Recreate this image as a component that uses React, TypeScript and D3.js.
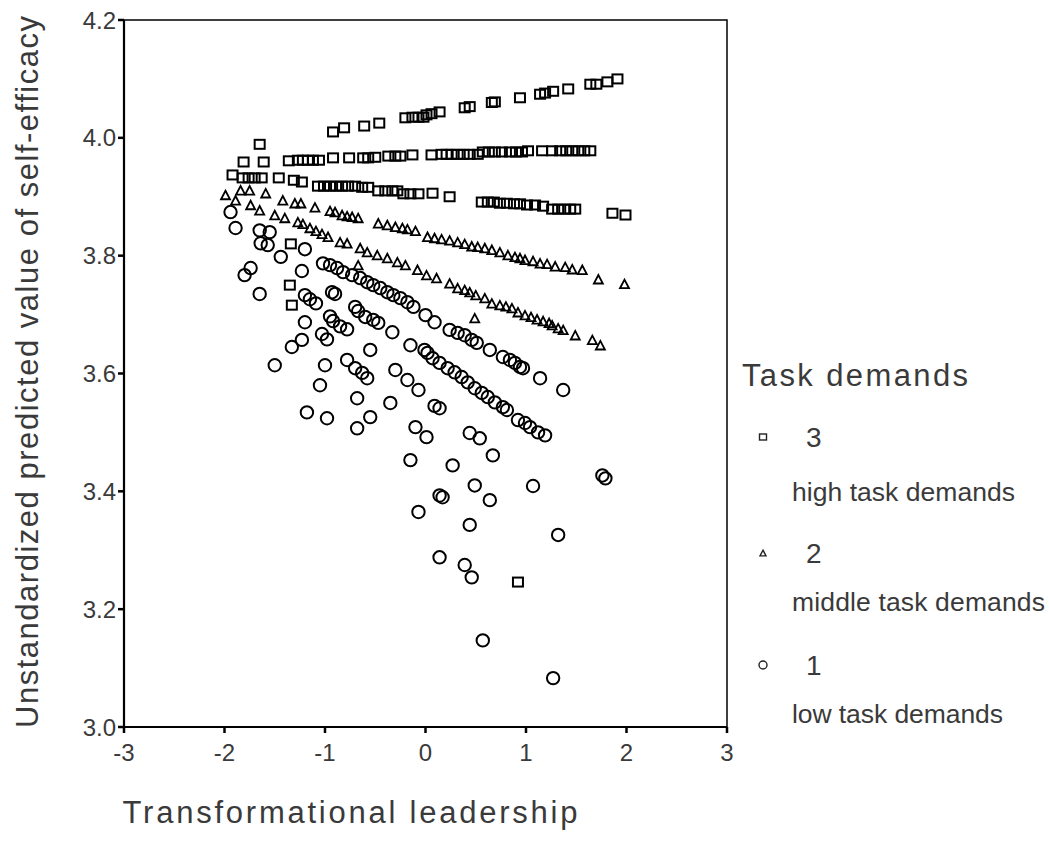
import React from "react";
import * as d3 from "d3";

type Pt = [number, number];

const xTicks = [-3, -2, -1, 0, 1, 2, 3];
const yTicks = [3.0, 3.2, 3.4, 3.6, 3.8, 4.0, 4.2];

const xTitle = "Transformational leadership";
const yTitle = "Unstandardized predicted value of self-efficacy";
const legendTitle = "Task demands";
const legendCodes = ["3", "2", "1"];
const legendLabels = ["high task demands", "middle task demands", "low task demands"];

// Task demands = 3 (high) – squares
const highSquares: Pt[] = [
  [-0.92, 4.010], [-0.81, 4.017], [-0.61, 4.020], [-0.46, 4.025], [-0.20, 4.034], [-0.13, 4.035],
  [-0.07, 4.035], [-0.02, 4.035], [0.01, 4.039], [0.06, 4.041], [0.14, 4.044], [0.39, 4.051],
  [0.44, 4.053], [0.66, 4.060], [0.69, 4.061], [0.94, 4.068], [1.14, 4.074], [1.19, 4.076],
  [1.27, 4.079], [1.42, 4.083], [1.64, 4.091], [1.70, 4.091], [1.81, 4.095], [1.91, 4.100],
  [-1.65, 3.989],
  [-1.81, 3.959], [-1.61, 3.959], [-1.36, 3.961], [-1.27, 3.962], [-1.22, 3.962], [-1.17, 3.962],
  [-1.12, 3.962], [-1.06, 3.962], [-0.92, 3.966], [-0.76, 3.966], [-0.62, 3.966], [-0.57, 3.966],
  [-0.50, 3.967], [-0.37, 3.969], [-0.30, 3.969], [-0.25, 3.969], [-0.13, 3.971], [0.06, 3.971],
  [0.16, 3.972], [0.21, 3.972], [0.26, 3.972], [0.32, 3.972], [0.38, 3.972], [0.44, 3.972],
  [0.52, 3.972], [0.57, 3.976], [0.63, 3.976], [0.69, 3.976], [0.76, 3.976], [0.84, 3.976],
  [0.90, 3.976], [0.96, 3.976], [1.02, 3.978], [1.16, 3.978], [1.26, 3.978], [1.34, 3.978],
  [1.40, 3.978], [1.46, 3.978], [1.52, 3.978], [1.58, 3.978], [1.64, 3.978],
  [-1.92, 3.937], [-1.82, 3.932], [-1.76, 3.932], [-1.70, 3.932], [-1.63, 3.932], [-1.46, 3.932],
  [-1.31, 3.928], [-1.23, 3.925], [-1.07, 3.918], [-1.01, 3.918], [-0.95, 3.918], [-0.89, 3.918],
  [-0.83, 3.918], [-0.77, 3.918], [-0.70, 3.918], [-0.63, 3.916], [-0.57, 3.916], [-0.47, 3.910],
  [-0.40, 3.910], [-0.33, 3.910], [-0.28, 3.910], [-0.22, 3.905], [-0.15, 3.905], [-0.07, 3.905],
  [0.07, 3.906], [0.24, 3.900], [0.56, 3.891], [0.62, 3.891], [0.68, 3.891], [0.74, 3.889],
  [0.81, 3.889], [0.88, 3.888], [0.94, 3.888], [1.01, 3.886], [1.09, 3.886], [1.17, 3.884],
  [1.26, 3.879], [1.32, 3.879], [1.38, 3.879], [1.44, 3.879], [1.49, 3.879], [1.86, 3.872],
  [1.99, 3.869],
  [-1.34, 3.820], [-1.35, 3.750], [-1.33, 3.716], [0.92, 3.246],
];

// Task demands = 2 (middle) – triangles
const middleTriangles: Pt[] = [
  [-1.99, 3.903], [-1.84, 3.911], [-1.75, 3.911], [-1.59, 3.906], [-1.42, 3.894], [-1.30, 3.889],
  [-1.24, 3.889], [-1.10, 3.882], [-0.95, 3.876], [-0.90, 3.874], [-0.83, 3.869], [-0.78, 3.867],
  [-0.73, 3.866], [-0.67, 3.864], [-0.47, 3.855], [-0.38, 3.852], [-0.30, 3.849], [-0.23, 3.847],
  [-0.18, 3.845], [-0.10, 3.842], [0.02, 3.832], [0.09, 3.830], [0.16, 3.828], [0.24, 3.826],
  [0.32, 3.823], [0.39, 3.820], [0.46, 3.816], [0.52, 3.815], [0.59, 3.813], [0.66, 3.810],
  [0.74, 3.806], [0.82, 3.801], [0.89, 3.798], [0.94, 3.796], [0.99, 3.793], [1.07, 3.791],
  [1.14, 3.787], [1.21, 3.786], [1.29, 3.782], [1.39, 3.781], [1.46, 3.777], [1.56, 3.776],
  [1.72, 3.760], [1.98, 3.752],
  [-1.89, 3.894], [-1.74, 3.886], [-1.65, 3.877], [-1.50, 3.869], [-1.40, 3.864], [-1.27, 3.857],
  [-1.22, 3.854], [-1.15, 3.847], [-1.09, 3.842], [-1.03, 3.837], [-0.97, 3.832], [-0.85, 3.823],
  [-0.78, 3.821], [-0.65, 3.813], [-0.58, 3.806], [-0.48, 3.801], [-0.38, 3.796], [-0.28, 3.789],
  [-0.20, 3.784], [-0.08, 3.776], [0.01, 3.767], [0.11, 3.762], [0.24, 3.753], [0.32, 3.745],
  [0.39, 3.742], [0.44, 3.738], [0.50, 3.733], [0.59, 3.728], [0.66, 3.719], [0.74, 3.716],
  [0.80, 3.714], [0.86, 3.711], [0.92, 3.704], [0.99, 3.699], [1.05, 3.696], [1.11, 3.692],
  [1.17, 3.689], [1.23, 3.686], [1.26, 3.682], [1.32, 3.677], [1.37, 3.674], [1.49, 3.665],
  [1.66, 3.657], [1.74, 3.648],
  [-0.67, 3.784], [0.49, 3.694],
];

// Task demands = 1 (low) – circles
const lowCircles: Pt[] = [
  [-1.94, 3.874], [-1.89, 3.847], [-1.65, 3.843], [-1.55, 3.840], [-1.64, 3.821], [-1.57, 3.818],
  [-1.44, 3.798], [-1.74, 3.779], [-1.80, 3.767], [-1.65, 3.735], [-1.23, 3.774], [-1.20, 3.811],
  [-1.20, 3.733], [-1.15, 3.726], [-1.09, 3.719], [-0.93, 3.738], [-0.90, 3.735], [-1.20, 3.687],
  [-0.95, 3.697], [-0.92, 3.689], [-0.85, 3.680], [-0.78, 3.675], [-1.03, 3.667], [-0.98, 3.658],
  [-1.33, 3.645], [-1.23, 3.657], [-1.50, 3.614], [-1.00, 3.614], [-1.05, 3.580], [-0.78, 3.623],
  [-0.70, 3.609], [-0.63, 3.601], [-0.58, 3.592], [-0.70, 3.713], [-0.67, 3.706], [-0.60, 3.696],
  [-0.52, 3.691], [-0.47, 3.686], [-0.33, 3.670], [-0.55, 3.640], [-0.15, 3.648], [-0.01, 3.640],
  [-0.30, 3.606], [-0.18, 3.589], [-0.07, 3.572], [-0.68, 3.558], [-0.35, 3.550], [-0.55, 3.526],
  [-1.18, 3.534], [-0.98, 3.524], [-0.68, 3.507], [-0.10, 3.509], [-0.15, 3.453],
  [-1.02, 3.787], [-0.95, 3.784], [-0.88, 3.779], [-0.82, 3.772], [-0.73, 3.767], [-0.65, 3.762],
  [-0.58, 3.755], [-0.52, 3.750], [-0.45, 3.745], [-0.38, 3.738], [-0.32, 3.733], [-0.25, 3.728],
  [-0.18, 3.721], [-0.12, 3.713], [0.00, 3.699], [0.09, 3.687], [0.24, 3.674], [0.32, 3.669],
  [0.39, 3.665], [0.46, 3.657], [0.51, 3.652], [0.64, 3.640], [0.77, 3.628], [0.84, 3.623],
  [0.89, 3.618], [0.94, 3.611], [0.97, 3.609], [1.14, 3.592], [1.37, 3.572],
  [0.02, 3.635], [0.07, 3.626], [0.14, 3.618], [0.22, 3.609], [0.29, 3.602], [0.36, 3.594],
  [0.42, 3.585], [0.49, 3.575], [0.56, 3.567], [0.62, 3.560], [0.69, 3.551], [0.77, 3.543],
  [0.81, 3.538], [0.92, 3.521], [0.99, 3.516], [1.04, 3.509], [1.12, 3.500], [1.19, 3.495],
  [0.09, 3.545], [0.14, 3.541], [0.01, 3.492], [0.44, 3.499], [0.54, 3.490], [0.67, 3.461],
  [0.27, 3.444], [0.49, 3.410], [1.07, 3.409], [1.76, 3.427], [1.79, 3.422], [0.14, 3.393],
  [0.17, 3.390], [0.64, 3.385], [0.44, 3.343], [1.32, 3.326], [0.14, 3.288], [0.39, 3.275],
  [0.46, 3.254], [0.57, 3.147], [1.27, 3.083], [-0.07, 3.365],
];

const W = 1049;
const H = 858;
const PL = 124, PR = 727, PT = 20, PB = 727;
const TEXT = "#3a3a3a";
const FONT = "'Liberation Sans', Arial, sans-serif";

function triPath(cx: number, cy: number, s: number) {
  const h = s * 0.95;
  return `M${cx},${cy - h / 2}L${cx + s / 2},${cy + h / 2}L${cx - s / 2},${cy + h / 2}Z`;
}

export default function App() {
  const x = d3.scaleLinear().domain([-3, 3]).range([PL, PR]);
  const y = d3.scaleLinear().domain([3.0, 4.2]).range([PB, PT]);
  const fmt = d3.format(".1f");

  const legendX = 763;
  const legendRows = [437, 553, 665];
  const labelRows = [491, 601, 713];
  const labelWidths = [223, 253, 211];

  return (
    <svg
      width={W}
      height={H}
      style={{ position: "absolute", left: 0, top: 0, background: "#fff" }}
      fontFamily={FONT}
    >
      <rect x={0} y={0} width={W} height={H} fill="#fff" />
      {/* frame */}
      <rect x={PL} y={PT} width={PR - PL} height={PB - PT} fill="none" stroke="#000" strokeWidth={1.5} />
      <line x1={PL} y1={PT} x2={PL} y2={PB} stroke="#000" strokeWidth={2.2} />
      <line x1={PL} y1={PB} x2={PR} y2={PB} stroke="#000" strokeWidth={2.2} />

      {/* y ticks */}
      {yTicks.map((t) => (
        <g key={"y" + t}>
          <line x1={PL - 6} x2={PL} y1={y(t)} y2={y(t)} stroke="#000" strokeWidth={2.5} />
          <text x={116} y={y(t)} dy="0.36em" textAnchor="end" fontSize={24} fill={TEXT}>
            {fmt(t)}
          </text>
        </g>
      ))}
      {/* x ticks */}
      {xTicks.map((t) => (
        <g key={"x" + t}>
          <line x1={x(t)} x2={x(t)} y1={PB} y2={PB + 6} stroke="#000" strokeWidth={2.5} />
          <text x={x(t)} y={761} textAnchor="middle" fontSize={24} fill={TEXT}>
            {String(t)}
          </text>
        </g>
      ))}

      {/* axis titles */}
      <text x={350} y={823} textAnchor="middle" fontSize={31} fill={TEXT} textLength={455}>
        {xTitle}
      </text>
      <text
        transform={`translate(38,372) rotate(-90)`}
        textAnchor="middle"
        fontSize={31}
        fill={TEXT}
        textLength={712}
      >
        {yTitle}
      </text>

      {/* data */}
      <g fill="none" stroke="#000">
        {lowCircles.map((d, i) => (
          <circle key={"c" + i} cx={x(d[0])} cy={y(d[1])} r={6.2} strokeWidth={2} />
        ))}
        {middleTriangles.map((d, i) => (
          <path key={"t" + i} d={triPath(x(d[0]), y(d[1]), 9)} strokeWidth={1.8} />
        ))}
        {highSquares.map((d, i) => (
          <rect
            key={"s" + i}
            x={x(d[0]) - 5}
            y={y(d[1]) - 4.5}
            width={10}
            height={9}
            strokeWidth={2}
          />
        ))}
      </g>

      {/* legend */}
      <text x={742} y={386} fontSize={31} fill={TEXT} textLength={226}>
        {legendTitle}
      </text>
      <g fill="none" stroke="#222">
        <rect x={legendX - 3.5} y={legendRows[0] - 3} width={7} height={6} strokeWidth={1.4} />
        <path d={triPath(legendX, legendRows[1], 6)} strokeWidth={1.4} />
        <circle cx={legendX} cy={legendRows[2]} r={4} strokeWidth={1.4} />
      </g>
      {legendCodes.map((c, i) => (
        <text key={"lc" + i} x={806} y={legendRows[i]} dy="0.36em" fontSize={28} fill={TEXT}>
          {c}
        </text>
      ))}
      {legendLabels.map((l, i) => (
        <text
          key={"ll" + i}
          x={792}
          y={labelRows[i]}
          dy="0.36em"
          fontSize={26.5}
          fill={TEXT}
          textLength={labelWidths[i]}
        >
          {l}
        </text>
      ))}
    </svg>
  );
}
